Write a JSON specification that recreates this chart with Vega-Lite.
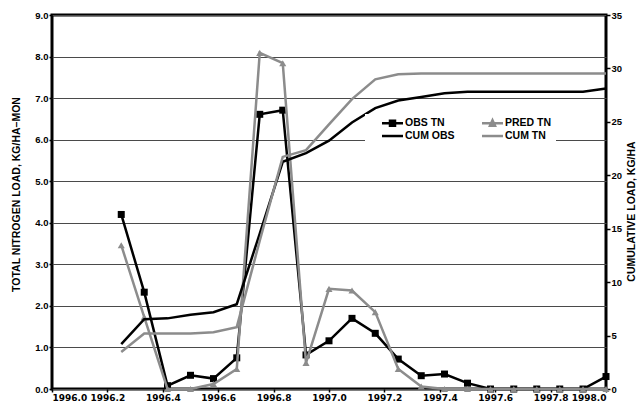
{
  "$schema": "https://vega.github.io/schema/vega-lite/v6.json",
  "width": 554,
  "height": 374,
  "autosize": {"type": "none"},
  "padding": {"left": 52, "top": 15, "right": 38, "bottom": 15},
  "background": "white",
  "config": {
    "view": {"stroke": "black", "strokeWidth": 3},
    "axis": {
      "labelFont": "Liberation Sans", "labelFontWeight": "bold", "labelFontSize": 9.5, "labelColor": "black",
      "titleFont": "Liberation Sans", "titleFontWeight": "bold", "titleFontSize": 10.5, "titleColor": "black",
      "tickColor": "black", "tickWidth": 1.5, "domain": false
    }
  },
  "data": {"values": [
    {"t": 1996.25, "OBS TN": 4.2, "PRED TN": 3.46, "CUM OBS": 4.2, "CUM TN": 3.46},
    {"t": 1996.333, "OBS TN": 2.33, "PRED TN": 1.73, "CUM OBS": 6.53, "CUM TN": 5.19},
    {"t": 1996.417, "OBS TN": 0.08, "PRED TN": 0, "CUM OBS": 6.61, "CUM TN": 5.19},
    {"t": 1996.5, "OBS TN": 0.33, "PRED TN": 0, "CUM OBS": 6.94, "CUM TN": 5.19},
    {"t": 1996.583, "OBS TN": 0.25, "PRED TN": 0.12, "CUM OBS": 7.19, "CUM TN": 5.31},
    {"t": 1996.667, "OBS TN": 0.75, "PRED TN": 0.48, "CUM OBS": 7.94, "CUM TN": 5.79},
    {"t": 1996.75, "OBS TN": 6.61, "PRED TN": 8.09, "CUM OBS": 14.55, "CUM TN": 13.88},
    {"t": 1996.833, "OBS TN": 6.71, "PRED TN": 7.84, "CUM OBS": 21.26, "CUM TN": 21.72},
    {"t": 1996.917, "OBS TN": 0.82, "PRED TN": 0.63, "CUM OBS": 22.08, "CUM TN": 22.35},
    {"t": 1997.0, "OBS TN": 1.16, "PRED TN": 2.41, "CUM OBS": 23.24, "CUM TN": 24.76},
    {"t": 1997.083, "OBS TN": 1.7, "PRED TN": 2.37, "CUM OBS": 24.94, "CUM TN": 27.13},
    {"t": 1997.167, "OBS TN": 1.34, "PRED TN": 1.85, "CUM OBS": 26.28, "CUM TN": 28.98},
    {"t": 1997.25, "OBS TN": 0.72, "PRED TN": 0.48, "CUM OBS": 27.0, "CUM TN": 29.46},
    {"t": 1997.333, "OBS TN": 0.32, "PRED TN": 0.06, "CUM OBS": 27.32, "CUM TN": 29.52},
    {"t": 1997.417, "OBS TN": 0.36, "PRED TN": 0, "CUM OBS": 27.68, "CUM TN": 29.52},
    {"t": 1997.5, "OBS TN": 0.14, "PRED TN": 0, "CUM OBS": 27.82, "CUM TN": 29.52},
    {"t": 1997.583, "OBS TN": 0, "PRED TN": 0, "CUM OBS": 27.82, "CUM TN": 29.52},
    {"t": 1997.667, "OBS TN": 0, "PRED TN": 0, "CUM OBS": 27.82, "CUM TN": 29.52},
    {"t": 1997.75, "OBS TN": 0, "PRED TN": 0, "CUM OBS": 27.82, "CUM TN": 29.52},
    {"t": 1997.833, "OBS TN": 0, "PRED TN": 0, "CUM OBS": 27.82, "CUM TN": 29.52},
    {"t": 1997.917, "OBS TN": 0, "PRED TN": 0, "CUM OBS": 27.82, "CUM TN": 29.52},
    {"t": 1998.0, "OBS TN": 0.3, "PRED TN": 0, "CUM OBS": 28.12, "CUM TN": 29.52}
  ]},
  "transform": [{"fold": ["OBS TN", "PRED TN", "CUM OBS", "CUM TN"], "as": ["s", "v"]}],
  "encoding": {
    "x": {
      "field": "t", "type": "quantitative",
      "scale": {"domain": [1996, 1998], "nice": false, "zero": false},
      "axis": {
        "values": [1996, 1996.2, 1996.4, 1996.6, 1996.8, 1997, 1997.2, 1997.4, 1997.6, 1997.8, 1998],
        "format": ".1f", "grid": false, "title": null, "tickSize": 3, "labelPadding": 1,
        "labelFont": "DejaVu Sans", "labelFontSize": 9
      }
    }
  },
  "layer": [
    {
      "encoding": {
        "y": {
          "field": "v", "type": "quantitative",
          "scale": {"domain": [0, 9], "nice": false, "zero": false},
          "axis": {
            "orient": "left", "values": [0, 1, 2, 3, 4, 5, 6, 7, 8, 9], "format": ".1f",
            "grid": true, "gridColor": "#4a4a4a", "gridWidth": 1, "tickSize": 3, "labelPadding": 1,
            "title": "TOTAL NITROGEN LOAD, KG/HA–MON", "titlePadding": 13, "titleY": 179
          }
        }
      },
      "layer": [
        {
          "transform": [{"filter": {"field": "s", "equal": "OBS TN"}}],
          "mark": {"type": "line", "strokeWidth": 2.5, "color": "black"},
          "encoding": {}
        },
        {
          "transform": [{"filter": {"field": "s", "equal": "OBS TN"}}],
          "mark": {"type": "point", "shape": "square", "filled": true, "color": "black", "size": 49, "opacity": 1}
        },
        {
          "transform": [{"filter": {"field": "s", "equal": "PRED TN"}}],
          "mark": {"type": "line", "strokeWidth": 2.5, "color": "#8c8c8c"},
          "encoding": {}
        },
        {
          "transform": [{"filter": {"field": "s", "equal": "PRED TN"}}],
          "mark": {"type": "point", "shape": "triangle-up", "filled": true, "color": "#8c8c8c", "size": 50, "opacity": 1}
        }
      ]
    },
    {
      "transform": [{"filter": {"field": "s", "oneOf": ["CUM OBS", "CUM TN"]}}],
      "mark": {"type": "line", "strokeWidth": 2.5},
      "encoding": {
        "y": {
          "field": "v", "type": "quantitative",
          "scale": {"domain": [0, 35], "nice": false, "zero": false},
          "axis": {
            "orient": "right", "values": [0, 5, 10, 15, 20, 25, 30, 35], "format": "d",
            "grid": false, "tickSize": 4, "labelPadding": 1,
            "title": "CUMULATIVE LOAD, KG/HA", "titleAngle": 270, "titlePadding": 15, "titleY": 196
          }
        },
        "color": {
          "field": "s", "type": "nominal",
          "scale": {"domain": ["OBS TN", "PRED TN", "CUM OBS", "CUM TN"], "range": ["black", "#8c8c8c", "black", "#8c8c8c"]},
          "legend": {
            "orient": "none", "legendX": 313, "legendY": 99, "columns": 2, "direction": "horizontal", "title": null,
            "fillColor": "white", "padding": 4, "columnPadding": 14, "rowPadding": 0,
            "labelFont": "Liberation Sans", "labelFontWeight": "bold", "labelFontSize": 10.5, "labelColor": "black",
            "labelOffset": 22, "symbolSize": 121, "symbolStrokeWidth": 2.5,
            "values": ["OBS TN", "PRED TN", "CUM OBS", "CUM TN"],
            "encode": {
              "labels": {"update": {"dy": {"value": -2}}},
              "symbols": {
                "update": {
                  "shape": {"signal": "datum.value == 'OBS TN' ? 'M1.09,-0.36H4.91M2.545,-0.815H3.455V0.095H2.545Z' : datum.value == 'PRED TN' ? 'M1.09,-0.36H4.91M3,-0.91L3.455,0.09H2.545Z' : 'M1.09,-0.36H4.91'"},
                  "stroke": {"scale": "color", "field": "value"},
                  "fill": {"scale": "color", "field": "value"},
                  "strokeWidth": {"value": 2.5},
                  "opacity": {"value": 1}
                }
              }
            }
          }
        }
      }
    }
  ],
  "resolve": {"scale": {"y": "independent"}, "axis": {"y": "independent"}}
}
